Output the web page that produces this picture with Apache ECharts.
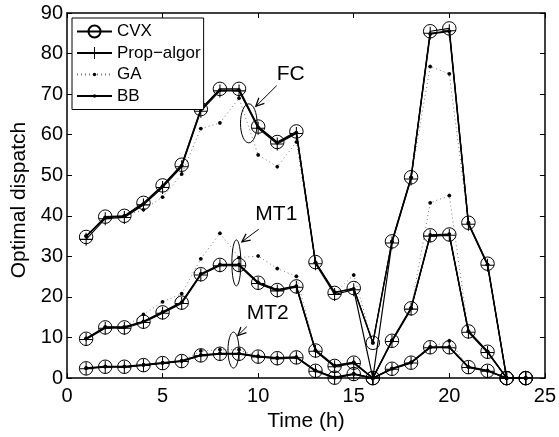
<!DOCTYPE html>
<html><head><meta charset="utf-8">
<script src="https://cdn.jsdelivr.net/npm/echarts@6/dist/echarts.min.js"></script>
<style>html,body{margin:0;padding:0;background:#fff}#c{width:559px;height:437px}</style>
</head><body><div id="c"></div>
<script>
// ---------------- data ----------------
const hours = [1,2,3,4,5,6,7,8,9,10,11,12,13,14,15,16,17,18,19,20,21,22,23,24];

const fcCVX  = [34.8,39.8,40.0,43.2,47.5,52.6,66.3,71.3,71.3,62.0,58.2,60.8,28.6,21.0,22.2,8.7,33.7,49.5,85.5,86.2,38.3,28.2,0,0];
const fcProp = [34.2,39.3,39.6,42.7,47.0,52.1,65.8,70.8,70.8,61.6,57.7,60.3,28.2,20.6,21.8,0,33.3,49.1,85.0,85.6,37.9,27.8,0,0];
const fcGA   = [35.0,39.5,40.0,41.5,44.6,50.3,61.5,62.9,69.0,55.0,52.1,58.2,28.5,21.0,25.4,8.7,33.7,49.5,76.8,75.0,38.3,28.0,0,0];
const fcBB   = [35.0,39.6,39.9,42.9,47.3,52.4,66.2,71.0,71.0,61.8,58.0,60.5,28.5,21.2,22.0,8.7,33.6,49.4,84.8,85.5,38.1,28.0,0,0];

const mt1CVX  = [9.7,12.5,12.5,13.9,16.2,18.6,25.6,27.9,27.9,23.5,21.7,22.6,6.8,3.0,3.8,0,9.2,17.2,35.2,35.4,11.5,6.5,0,0];
const mt1Prop = [9.5,12.3,12.3,13.7,16.0,18.4,25.4,27.7,27.7,23.3,21.5,22.4,6.6,2.8,3.6,0,9.0,17.0,35.0,35.2,11.3,6.3,0,0];
const mt1GA   = [9.7,12.5,12.5,15.7,18.8,20.8,29.4,35.7,29.7,30.1,27.0,25.1,6.8,3.0,3.8,0,9.2,17.2,43.2,45.0,11.5,6.5,0,0];
const mt1BB   = [9.8,12.6,12.6,14.0,16.3,18.7,25.7,28.0,28.0,23.6,21.8,22.7,6.9,3.1,3.9,0,9.3,17.3,35.3,35.5,11.6,6.6,0,0];

const mt2CVX  = [2.4,2.8,2.8,3.2,3.7,4.2,5.6,6.0,6.0,5.3,4.9,5.1,1.8,0.1,1.0,0,2.3,3.8,7.6,7.6,2.7,1.8,0,0];
const mt2Prop = [2.3,2.7,2.7,3.1,3.6,4.1,5.5,5.9,5.9,5.2,4.8,5.0,1.7,0.0,0.9,0,2.2,3.7,7.5,7.5,2.6,1.7,0,0];
const mt2GA   = [2.4,2.8,2.8,3.2,3.7,4.2,6.7,7.0,7.0,5.3,4.9,5.1,1.8,0.1,1.0,0,2.3,3.8,7.6,9.2,2.7,1.8,0,0];
const mt2BB   = [2.5,2.9,2.9,3.3,3.8,4.3,5.7,6.1,6.1,5.4,5.0,5.2,1.9,0.2,1.1,0,2.4,3.9,7.7,7.7,2.8,1.9,0,0];

const methodNames = ['CVX', 'Prop\u2212algor', 'GA', 'BB'];
const groupLabels = ['FC', 'MT1', 'MT2'];

// annotation anchors in data units
const annText   = [[11.7, 75.0], [10.95, 40.3], [10.5, 16.1]];
const annArrow  = [[[10.97, 72.1], [9.88, 67.0]], [[10.03, 36.7], [9.15, 33.6]], [[9.41, 12.7], [8.94, 10.5]]];
const annEllipse= [[9.51, 62.8], [8.86, 28.4], [8.71, 6.9]];

// ---------------- styling ----------------
const FONT = '"Liberation Sans", Arial, Helvetica, sans-serif';
const plusPath = 'path://M-0.08,-1 L0.08,-1 L0.08,-0.08 L1,-0.08 L1,0.08 L0.08,0.08 L0.08,1 L-0.08,1 L-0.08,0.08 L-1,0.08 L-1,-0.08 L-0.08,-0.08 Z';
const dotPath  = 'path://M-1,-1 L-1,-1 M1,1 L1,1 M0.3,0 L0.21,0.21 L0,0.3 L-0.21,0.21 L-0.3,0 L-0.21,-0.21 L0,-0.3 L0.21,-0.21 Z';

const styles = {
  'CVX': {symbol: 'circle', symbolSize: 13.5, itemStyle: {color: 'rgba(0,0,0,0)', borderColor: '#000', borderWidth: 1}, lineStyle: {color: '#000', width: 1.2, type: 'solid'}},
  'Prop\u2212algor': {symbol: plusPath, symbolSize: 13, itemStyle: {color: '#000', borderWidth: 0}, lineStyle: {color: '#000', width: 1.2, type: 'solid'}},
  'GA': {symbol: dotPath, symbolSize: 13, itemStyle: {color: '#000', borderWidth: 0}, lineStyle: {color: '#777', width: 1, type: [1, 3]}},
  'BB': {symbol: dotPath, symbolSize: 13, itemStyle: {color: '#000', borderWidth: 0}, lineStyle: {color: '#000', width: 1.4, type: 'solid'}}
};

const dataByMethod = {
  'CVX': [fcCVX, mt1CVX, mt2CVX],
  'Prop\u2212algor': [fcProp, mt1Prop, mt2Prop],
  'GA': [fcGA, mt1GA, mt2GA],
  'BB': [fcBB, mt1BB, mt2BB]
};

const series = [];
['GA', 'CVX', 'Prop\u2212algor', 'BB'].forEach(function (m) {
  dataByMethod[m].forEach(function (arr) {
    const st = styles[m];
    series.push({
      name: m,
      type: 'line',
      data: hours.map(function (h, i) { return [h, arr[i]]; }),
      symbol: st.symbol,
      symbolSize: st.symbolSize,
      showSymbol: true,
      showAllSymbol: true,
      itemStyle: st.itemStyle,
      lineStyle: st.lineStyle,
      emphasis: {disabled: true},
      silent: true,
      animation: false,
      z: 2
    });
  });
});

const axisLineStyle = {color: '#000', width: 1.5};
const chart = echarts.init(document.getElementById('c'), null, {renderer: 'canvas'});
const option = {
  backgroundColor: '#fff',
  animation: false,
  textStyle: {fontFamily: FONT},
  grid: {left: 67, right: 12, top: 13, bottom: 53, containLabel: false},
  legend: {
    data: methodNames,
    orient: 'vertical',
    left: 72, top: 18,
    itemWidth: 35, itemHeight: 15, itemGap: 4.5,
    padding: [5, 3, 5, 4],
    borderColor: '#000', borderWidth: 1,
    backgroundColor: '#fff',
    textStyle: {fontSize: 17, color: '#000', fontFamily: FONT},
    selectedMode: false,
    z: 10
  },
  xAxis: [
    {type: 'value', min: 0, max: 25, interval: 5, position: 'bottom',
     name: 'Time (h)', nameLocation: 'middle', nameGap: 25,
     nameTextStyle: {fontSize: 21, color: '#000', fontFamily: FONT, verticalAlign: 'top'},
     axisLine: {show: true, onZero: false, lineStyle: axisLineStyle},
     axisTick: {show: true, inside: true, length: 5, lineStyle: {color: '#000', width: 1}},
     axisLabel: {fontSize: 20, color: '#000', margin: 8, fontFamily: FONT},
     splitLine: {show: false}},
    {type: 'value', min: 0, max: 25, interval: 5, position: 'top',
     axisLine: {show: true, onZero: false, lineStyle: axisLineStyle},
     axisTick: {show: true, inside: true, length: 5, lineStyle: {color: '#000', width: 1}},
     axisLabel: {show: false}, splitLine: {show: false}}
  ],
  yAxis: [
    {type: 'value', min: 0, max: 90, interval: 10, position: 'left',
     name: 'Optimal dispatch', nameLocation: 'middle', nameGap: 24,
     nameTextStyle: {fontSize: 21, color: '#000', fontFamily: FONT, padding: [0, 9, 0, 0]},
     axisLine: {show: true, onZero: false, lineStyle: axisLineStyle},
     axisTick: {show: true, inside: true, length: 5, lineStyle: {color: '#000', width: 1}},
     axisLabel: {fontSize: 20, color: '#000', margin: 4, fontFamily: FONT},
     splitLine: {show: false}},
    {type: 'value', min: 0, max: 90, interval: 10, position: 'right',
     axisLine: {show: true, onZero: false, lineStyle: axisLineStyle},
     axisTick: {show: true, inside: true, length: 5, lineStyle: {color: '#000', width: 1}},
     axisLabel: {show: false}, splitLine: {show: false}}
  ],
  series: series
};
chart.setOption(option);

// ---------------- annotations (positioned from data units) ----------------
const ellipseR = [[8.3, 19.5], [4.5, 23], [5.5, 18]];
const graphics = [];
function px(p) { return chart.convertToPixel({xAxisIndex: 0, yAxisIndex: 0}, p); }
groupLabels.forEach(function (lab, i) {
  const t = px(annText[i]);
  graphics.push({type: 'text', x: t[0], y: t[1], z: 20, silent: true,
    style: {text: lab, fontSize: 21, fontFamily: FONT, fill: '#000', align: 'center', verticalAlign: 'middle'}});
  const a0 = px(annArrow[i][0]), a1 = px(annArrow[i][1]);
  graphics.push({type: 'line', z: 20, silent: true, shape: {x1: a0[0], y1: a0[1], x2: a1[0], y2: a1[1]},
    style: {stroke: '#000', lineWidth: 1}});
  const ang = Math.atan2(a0[1] - a1[1], a0[0] - a1[0]);
  const L = 9, spread = 0.45;
  const h1 = [a1[0] + L * Math.cos(ang + spread), a1[1] + L * Math.sin(ang + spread)];
  const h2 = [a1[0] + L * Math.cos(ang - spread), a1[1] + L * Math.sin(ang - spread)];
  graphics.push({type: 'polyline', z: 20, silent: true, shape: {points: [h1, a1, h2]},
    style: {stroke: '#000', lineWidth: 1.3, fill: null}});
  const e = px(annEllipse[i]);
  graphics.push({type: 'ellipse', z: 20, silent: true,
    shape: {cx: e[0], cy: e[1], rx: ellipseR[i][0], ry: ellipseR[i][1]},
    style: {stroke: '#000', lineWidth: 1, fill: 'rgba(0,0,0,0)'}});
});
chart.setOption({graphic: graphics});
</script>
</body></html>
